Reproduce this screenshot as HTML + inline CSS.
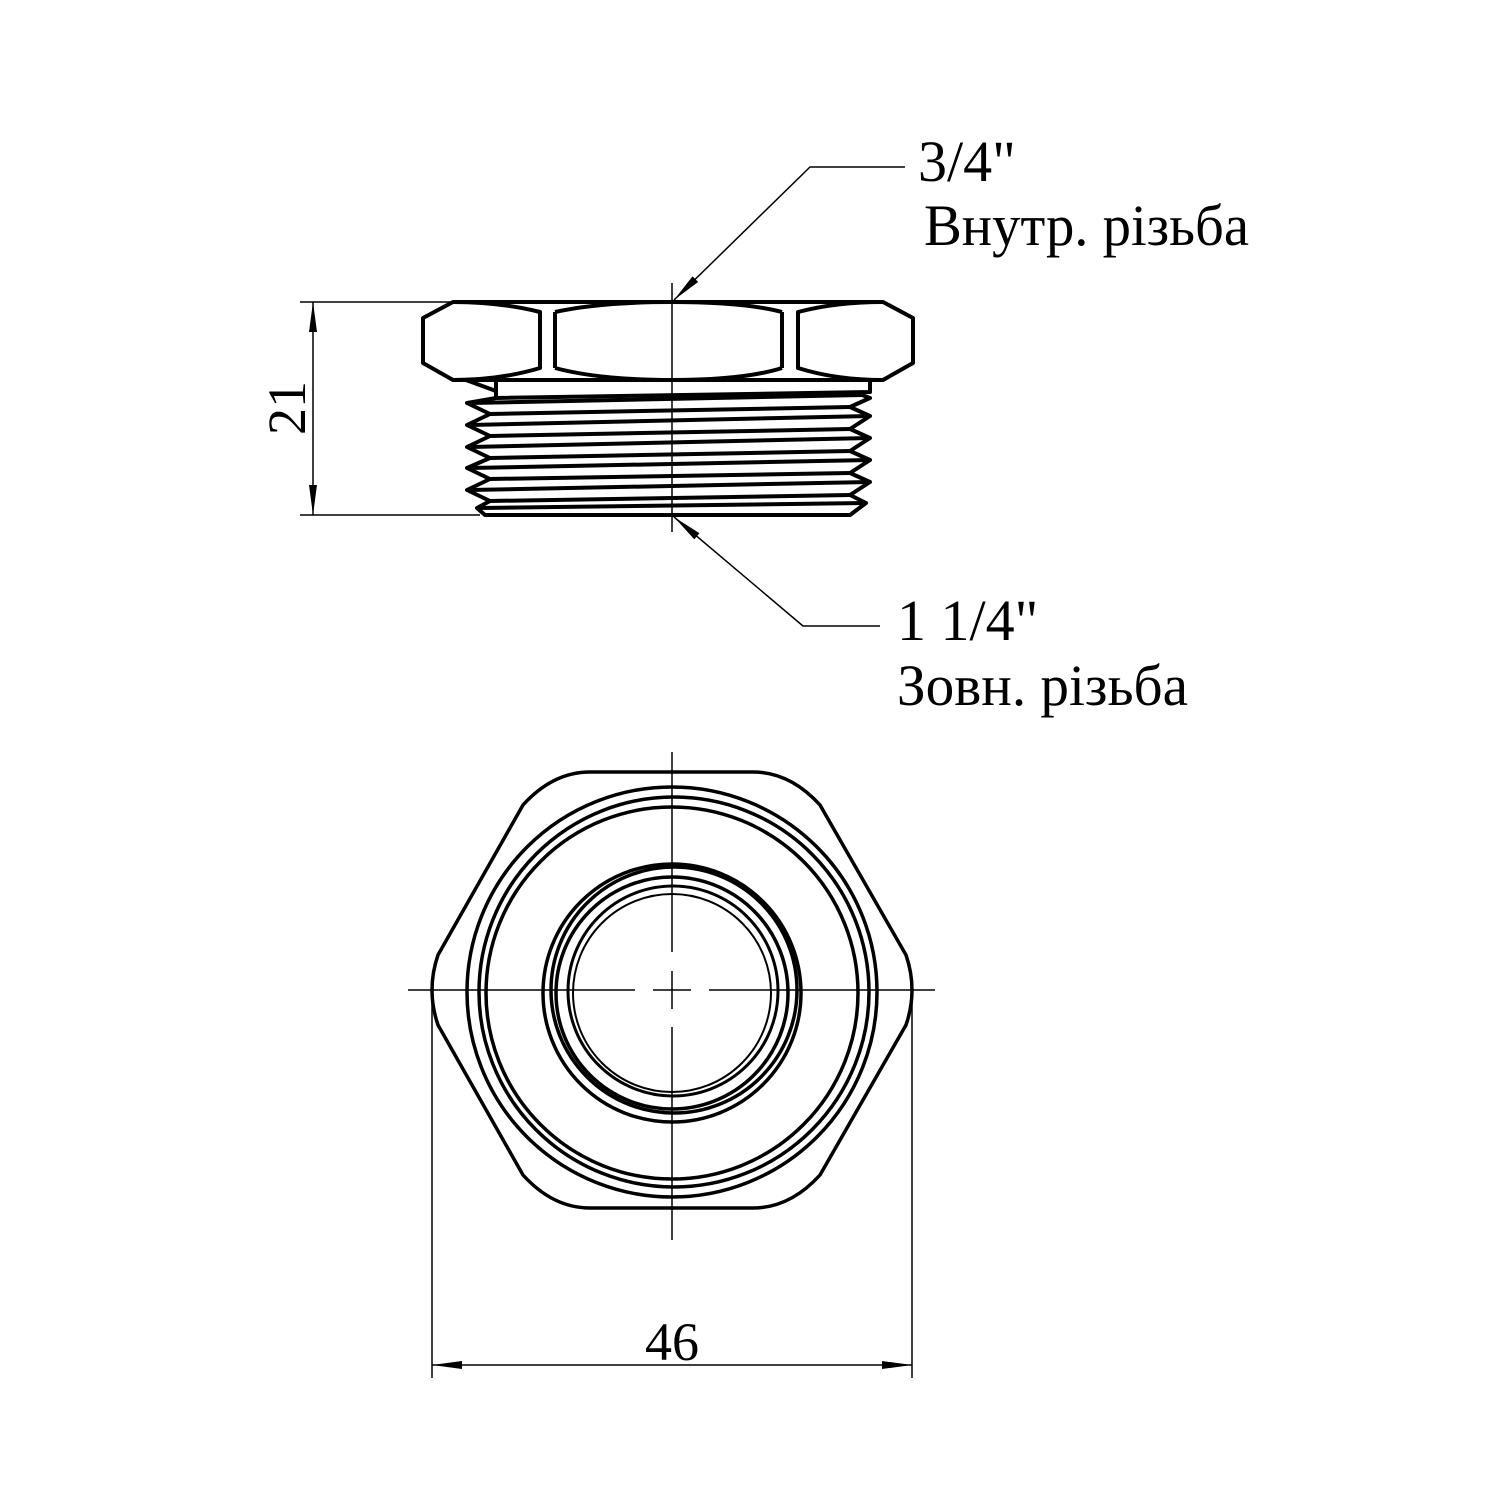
<!DOCTYPE html>
<html><head><style>html,body{margin:0;padding:0;background:#fff}svg{display:block}</style></head>
<body>
<svg width="1500" height="1500" viewBox="0 0 1500 1500" xmlns="http://www.w3.org/2000/svg">
<defs>
<marker id="ar" markerWidth="30" markerHeight="10" refX="30" refY="5" orient="auto-start-reverse" markerUnits="userSpaceOnUse">
<path d="M0,1 L30,5 L0,9 Z" fill="#000"/>
</marker>
</defs>
<g fill="none" stroke="#000" stroke-linejoin="round">
<!-- TOP VIEW -->
<g stroke-width="4">
<path d="M453,302 L883,302 L913,318 L913,363 L883,380 L453,380 L423,363 L423,318 Z"/>
<path d="M453,302 Q500,302 540,312 L540,368 Q500,380 453,380"/>
<path d="M883,302 Q836,302 798,312 L798,368 Q836,380 883,380"/>
<line x1="555" y1="312" x2="555" y2="368"/>
<line x1="782" y1="312" x2="782" y2="368"/>
<path d="M555,312 Q600,302 672,302 Q744,302 782,312"/>
<path d="M555,368 Q600,380 672,380 Q744,380 782,368"/>
<path d="M496,380 L496,398 L870,392 L870,380"/>
<path d="M466,380 L496,391"/>
<path d="M496,398 L467,403 L490,414 L467,425 L490,436 L467,447 L490,458 L467,468 L490,479 L467,490 L490,501 L477,508 L485,515 L850,515 L866,503 L850,495 L870,482 L850,473 L870,460 L850,451 L870,438 L850,429 L870,416 L850,407 L870,398 L862,395"/>
<line x1="470" y1="403" x2="862" y2="395"/>
<line x1="490" y1="414" x2="850" y2="407"/>
<line x1="470" y1="425" x2="870" y2="416"/>
<line x1="490" y1="436" x2="850" y2="429"/>
<line x1="470" y1="447" x2="870" y2="438"/>
<line x1="490" y1="458" x2="850" y2="451"/>
<line x1="470" y1="468" x2="870" y2="460"/>
<line x1="490" y1="479" x2="850" y2="473"/>
<line x1="470" y1="490" x2="870" y2="482"/>
<line x1="490" y1="501" x2="850" y2="495"/>
<line x1="480" y1="508" x2="866" y2="503"/>
</g>
<g stroke-width="1.5">
<line x1="672" y1="283" x2="672" y2="532"/>
<line x1="300" y1="302" x2="450" y2="302"/>
<line x1="300" y1="515" x2="480" y2="515"/>
<line x1="313" y1="302" x2="313" y2="515" marker-start="url(#ar)" marker-end="url(#ar)"/>
<polyline points="905,167 810,167 674,300" marker-end="url(#ar)"/>
<polyline points="880,626 803,626 674,517" marker-end="url(#ar)"/>
</g>
<!-- BOTTOM VIEW -->
<g stroke-width="3.5">
<path d="M590,772 L753,772 Q790,772 820,805 L906,955 Q918,990 906,1025 L820,1175 Q790,1208 753,1208 L590,1208 Q553,1208 523,1175 L438,1025 Q426,990 438,955 L523,805 Q553,772 590,772 Z"/>
<circle cx="672" cy="992" r="205"/>
<circle cx="674" cy="992" r="195"/>
<circle cx="672" cy="993" r="186"/>
<circle cx="672" cy="993" r="129"/>
<circle cx="674" cy="990" r="123"/>
<circle cx="672" cy="993" r="116"/>
<circle cx="673" cy="991" r="105" stroke-width="3"/>
<circle cx="672" cy="993" r="99" stroke-width="2"/>
</g>
<g stroke-width="1.5">
<line x1="408" y1="990" x2="635" y2="990"/>
<line x1="653" y1="990" x2="691" y2="990"/>
<line x1="709" y1="990" x2="935" y2="990"/>
<line x1="672" y1="752" x2="672" y2="952"/>
<line x1="672" y1="971" x2="672" y2="1009"/>
<line x1="672" y1="1027" x2="672" y2="1240"/>
<line x1="432" y1="1000" x2="432" y2="1378"/>
<line x1="912" y1="1000" x2="912" y2="1378"/>
<line x1="432" y1="1365" x2="912" y2="1365" marker-start="url(#ar)" marker-end="url(#ar)"/>
</g>
</g>
<g font-family="'Liberation Serif', 'DejaVu Serif', serif" font-size="58" fill="#000">
<text x="918" y="181">3/4"</text>
<text x="924" y="245" textLength="325" lengthAdjust="spacingAndGlyphs">Внутр. різьба</text>
<text x="897" y="640">1 1/4"</text>
<text x="897" y="705" textLength="291" lengthAdjust="spacingAndGlyphs">Зовн. різьба</text>
<text x="672" y="1360" text-anchor="middle" font-size="54">46</text>
<text transform="translate(305,408) rotate(-90)" text-anchor="middle" font-size="54">21</text>
</g>
</svg>
</body></html>
